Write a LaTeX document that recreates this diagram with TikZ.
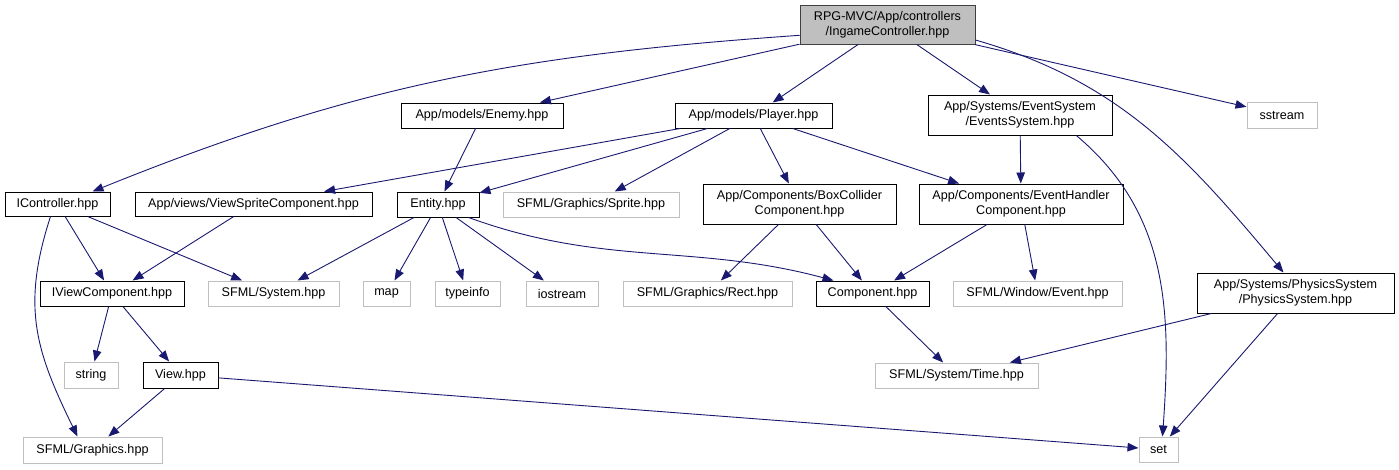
\documentclass[tikz,border=0pt]{standalone}
\usepackage{fontspec}
\setmainfont{Liberation Sans}
\usepackage{xcolor}
\usepackage{tikz}
\usetikzlibrary{arrows.meta,positioning}
\definecolor{inclblue}{HTML}{191970}
\definecolor{extgray}{HTML}{BFBFBF}
\definecolor{rootgray}{HTML}{404040}

\tikzset{
  filebox/.style={rectangle,inner sep=0pt,align=center,line width=1pt,
    font=\fontsize{12.6}{15}\selectfont},
  rootfile/.style={filebox,draw=rootgray,fill=extgray},
  docfile/.style={filebox,draw=black},
  extfile/.style={filebox,draw=extgray},
  incl/.style={draw=inclblue,line width=0.9pt,-{Triangle[length=11pt,width=8.5pt]}}
}

\begin{document}
\begin{tikzpicture}[x=1pt,y=-1pt]
\useasboundingbox (0,0) rectangle (1399,469);

% top row
\node[rootfile,minimum width=175pt,minimum height=39pt] (root) at (887.5,24.5)
  {RPG-MVC/App/controllers\\/IngameController.hpp};
\node[docfile,minimum width=162pt,minimum height=25pt] (enemy) at (482,115.5) {App/models/Enemy.hpp};
\node[docfile,minimum width=157pt,minimum height=25pt] (player) at (753.5,115.5) {App/models/Player.hpp};
\node[docfile,minimum width=184pt,minimum height=40pt] (events) at (1020,115)
  {App/Systems/EventSystem\\/EventsSystem.hpp};
\node[extfile,minimum width=70pt,minimum height=26pt] (sstream) at (1282,115) {sstream};

% second row
\node[docfile,minimum width=105pt,minimum height=24pt] (ictrl) at (57.5,204) {IController.hpp};
\node[docfile,minimum width=237pt,minimum height=24pt] (vsprite) at (253.5,204) {App/views/ViewSpriteComponent.hpp};
\node[docfile,minimum width=82pt,minimum height=25pt] (entity) at (438,204.5) {Entity.hpp};
\node[extfile,minimum width=176pt,minimum height=25pt] (sprite) at (591,204.5) {SFML/Graphics/Sprite.hpp};
\node[docfile,minimum width=193pt,minimum height=40pt] (boxcol) at (799.5,204)
  {App/Components/BoxCollider\\Component.hpp};
\node[docfile,minimum width=204pt,minimum height=40pt] (evhandler) at (1021,204)
  {App/Components/EventHandler\\Component.hpp};

% third row
\node[docfile,minimum width=144pt,minimum height=25pt] (iview) at (112,293.5) {IViewComponent.hpp};
\node[extfile,minimum width=131pt,minimum height=25pt] (sfsys) at (273.5,293.5) {SFML/System.hpp};
\node[extfile,minimum width=47pt,minimum height=25pt] (map) at (386.5,293.5) {map};
\node[extfile,minimum width=65pt,minimum height=25pt] (typeinfo) at (467.5,293.5) {typeinfo};
\node[extfile,minimum width=72pt,minimum height=25pt] (iostream) at (562,293.5) {iostream};
\node[extfile,minimum width=169pt,minimum height=25pt] (rect) at (707.5,293.5) {SFML/Graphics/Rect.hpp};
\node[docfile,minimum width=113pt,minimum height=25pt] (comp) at (872.5,293.5) {Component.hpp};
\node[extfile,minimum width=169pt,minimum height=25pt] (event) at (1037.5,293.5) {SFML/Window/Event.hpp};
\node[docfile,minimum width=197pt,minimum height=40pt] (phys) at (1295.5,293)
  {App/Systems/PhysicsSystem\\/PhysicsSystem.hpp};

% bottom rows
\node[extfile,minimum width=54pt,minimum height=26pt] (string) at (91,375) {string};
\node[docfile,minimum width=75pt,minimum height=26pt] (view) at (180.5,375) {View.hpp};
\node[extfile,minimum width=163pt,minimum height=25pt] (time) at (956.5,375.5) {SFML/System/Time.hpp};
\node[extfile,minimum width=139pt,minimum height=26pt] (sgfx) at (92.5,450) {SFML/Graphics.hpp};
\node[extfile,minimum width=39pt,minimum height=25pt] (set) at (1158.5,449.5) {set};

% includes of the controller
\draw[incl] (root.187) to[out=184,in=22] ([xshift=35pt]ictrl.north);
\draw[incl] (root) -- (enemy);
\draw[incl] (root) -- (player);
\draw[incl] (root) -- (events);
\draw[incl] (root) -- (sstream);
\draw[incl] (root.-10) to[out=-16,in=130] ([xshift=-12pt]phys.north);

% models
\draw[incl] (enemy) -- (entity);
\draw[incl] (player) -- (vsprite);
\draw[incl] (player) -- (entity);
\draw[incl] (player) -- (sprite);
\draw[incl] (player) -- (boxcol);
\draw[incl] (player) -- (evhandler);

% systems
\draw[incl] (events) -- (evhandler);
\draw[incl] (events.-20) to[out=-40,in=86] ([xshift=4pt]set.north);
\draw[incl] (phys) -- (time);
\draw[incl] (phys) -- (set);

% views
\draw[incl] (ictrl) -- (iview);
\draw[incl] (ictrl) -- (sfsys);
\draw[incl] ([xshift=-7pt]ictrl.south) to[out=-108,in=116,looseness=1.1] ([xshift=-15pt]sgfx.north);
\draw[incl] (vsprite) -- (iview);
\draw[incl] (iview) -- (string);
\draw[incl] (iview) -- (view);
\draw[incl] (view) -- (sgfx);
\draw[incl] (view) -- (set);

% entity and components
\draw[incl] (entity) -- (sfsys);
\draw[incl] (entity) -- ([xshift=8pt]map.north);
\draw[incl] (entity) -- (typeinfo);
\draw[incl] (entity) -- (iostream);
\draw[incl] (entity.-23) to[out=-20,in=165] ([xshift=-39pt]comp.north);
\draw[incl] (boxcol) -- (rect);
\draw[incl] (boxcol) -- (comp);
\draw[incl] (evhandler) -- (comp);
\draw[incl] (evhandler) -- (event);
\draw[incl] (comp) -- (time);
\end{tikzpicture}
\end{document}
